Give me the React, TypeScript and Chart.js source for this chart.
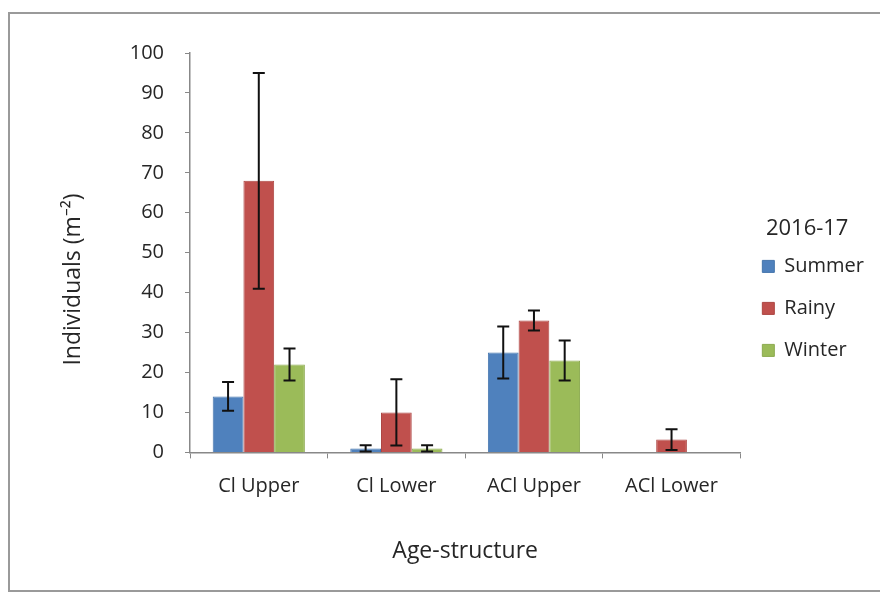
import React, { useEffect, useRef } from "react";
import { Chart, registerables } from "chart.js";

Chart.register(...registerables);

const categories = ["Cl Upper", "Cl Lower", "ACl Upper", "ACl Lower"];
const seriesNames = ["Summer", "Rainy", "Winter"];
const summerValues = [14, 1, 25, 0];
const rainyValues = [68, 10, 33, 3.2];
const winterValues = [22, 1, 23, 0];
const summerErrors = [3.6, 0.8, 6.5, 0];
const rainyErrors = [27, 8.3, 2.5, 2.6];
const winterErrors = [4, 0.8, 5, 0];
const yTicks = [0, 10, 20, 30, 40, 50, 60, 70, 80, 90, 100];

const FONT = "'Open Sans', 'Noto Sans', sans-serif";
const TEXT = "#262626";
const NB = "\u00A0";

const errorSets = [summerErrors, rainyErrors, winterErrors];

const errorBarPlugin = {
  id: "errorBars",
  afterDatasetsDraw(chart: any) {
    const ctx = chart.ctx;
    const y = chart.scales.y;
    chart.data.datasets.forEach((ds: any, di: number) => {
      const meta = chart.getDatasetMeta(di);
      const errs = errorSets[di];
      meta.data.forEach((bar: any, i: number) => {
        const v = ds.data[i];
        const e = errs[i];
        if (!e) return;
        const x = bar.x;
        const top = y.getPixelForValue(v + e);
        const bot = y.getPixelForValue(v - e);
        const cap = 6;
        ctx.save();
        ctx.strokeStyle = "#111";
        ctx.lineWidth = 2;
        ctx.beginPath();
        ctx.moveTo(x, top);
        ctx.lineTo(x, bot);
        ctx.moveTo(x - cap, top);
        ctx.lineTo(x + cap, top);
        ctx.moveTo(x - cap, bot);
        ctx.lineTo(x + cap, bot);
        ctx.stroke();
        ctx.restore();
      });
    });
  },
};

export default function App() {
  const ref = useRef<HTMLCanvasElement | null>(null);
  useEffect(() => {
    if (!ref.current) return;
    const chart = new Chart(ref.current, {
      type: "bar",
      data: {
        labels: categories,
        datasets: [
          { label: seriesNames[0], data: summerValues, backgroundColor: "#4F81BD", borderColor: "#4575AD", borderWidth: 1 },
          { label: seriesNames[1], data: rainyValues, backgroundColor: "#C0504D", borderColor: "#AD4643", borderWidth: 1 },
          { label: seriesNames[2], data: winterValues, backgroundColor: "#9BBB59", borderColor: "#8CAA50", borderWidth: 1 },
        ],
      },
      options: {
        animation: false,
        responsive: true,
        maintainAspectRatio: false,
        layout: { padding: { left: 50, top: 39, right: 12, bottom: 25 } },
        datasets: { bar: { categoryPercentage: 0.67, barPercentage: 1 } },
        plugins: {
          tooltip: { enabled: false },
          legend: {
            position: "right",
            align: "start",
            title: {
              display: true,
              text: "2016-17",
              color: TEXT,
              font: { family: FONT, size: 22 },
              padding: { top: 165, bottom: -10 },
              position: "center",
            } as any,
            labels: {
              color: TEXT,
              font: { family: FONT, size: 20 },
              boxWidth: 12,
              boxHeight: 12,
              padding: 22,
            },
          },
        },
        scales: {
          x: {
            grid: { display: true, drawOnChartArea: false, drawTicks: true, tickLength: 6, color: "#888", offset: true },
            border: { color: "#888", width: 1.5 },
            ticks: { color: TEXT, font: { family: FONT, size: 20 }, padding: 16 },
            title: { display: true, text: "Age-structure", color: TEXT, font: { family: FONT, size: 23 }, padding: { top: 23, bottom: 0 } },
          },
          y: {
            min: 0,
            max: 100,
            afterBuildTicks: (s: any) => { s.ticks = yTicks.map((v) => ({ value: v })); },
            afterFit: (s: any) => { s.width = 130; },
            grid: { display: true, drawOnChartArea: false, drawTicks: true, tickLength: 5, color: "#888" },
            border: { color: "#888", width: 1.5 },
            ticks: { color: TEXT, font: { family: FONT, size: 20 }, padding: 21 },
            title: {
              display: true,
              text: "Individuals (m⁻²)" + NB.repeat(9),
              color: TEXT,
              font: { family: FONT, size: 23 },
              padding: 0,
            },
          },
        },
      },
      plugins: [errorBarPlugin],
    });
    return () => chart.destroy();
  }, []);
  return (
    <div
      style={{
        position: "fixed",
        left: 8,
        top: 12,
        width: 880,
        height: 580,
        boxSizing: "border-box",
        border: "2px solid #9a9a9a",
        background: "#fff",
      }}
    >
      <canvas ref={ref} />
    </div>
  );
}
